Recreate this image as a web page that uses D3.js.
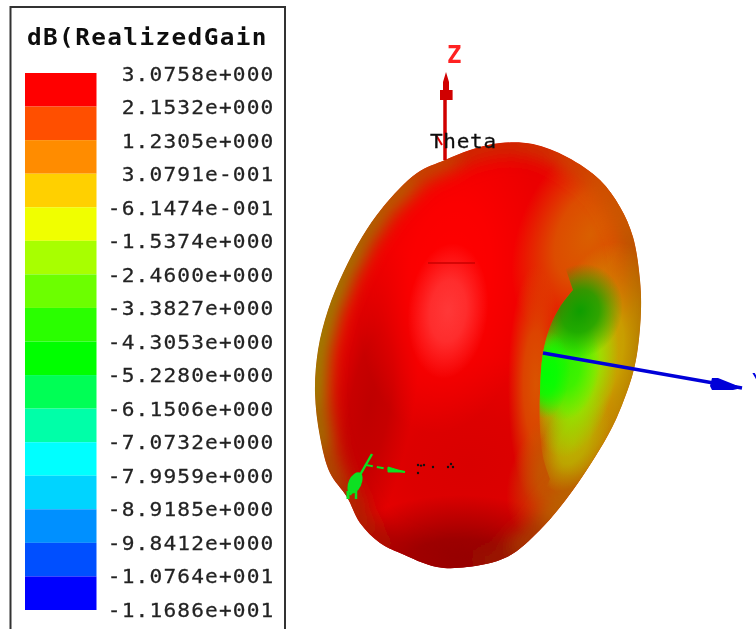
<!DOCTYPE html>
<html>
<head>
<meta charset="utf-8">
<script src="https://cdn.jsdelivr.net/npm/d3@7"></script>
<style>
html,body {margin:0;padding:0;background:#fff;overflow:hidden;}
svg {display:block;}
</style>
</head>
<body>
<script>
//Legend values, top to bottom
var gainLabels= ["3.0758e+000","2.1532e+000","1.2305e+000","3.0791e-001","-6.1474e-001","-1.5374e+000",
    "-2.4600e+000","-3.3827e+000","-4.3053e+000","-5.2280e+000","-6.1506e+000","-7.0732e+000",
    "-7.9959e+000","-8.9185e+000","-9.8412e+000","-1.0764e+001","-1.1686e+001"];
var bandColors= ["#ff0000","#ff5000","#ff8c00","#ffd000","#f0ff00","#a8ff00","#6cff00","#2bff00",
    "#00ff00","#00ff55","#00ffa8","#00ffff","#00d4ff","#0090ff","#0050ff","#0000ff"];

//Pattern silhouette (scene units, u to the right, v up)
var outlineU= [-17.5,-5,10,26.5,43.5,60,70,76.5,80,80.5,79,76.5,70,63.5,46.5,30,13.5,-6.5,-21.5,-40,-50,-60,-66.5,-75,-80,-82.5,-81,-76,-68.5,-59,-48.5,-31.5];
var outlineV= [97.5,102.5,106,105.5,99,87.5,74,59,37.5,22.5,4,-9,-27.5,-41,-67.5,-87.5,-101,-106,-106,-99,-94,-84,-71,-59,-41,-19,2.5,22.5,41,59,74,91];
//Gain (dB) and lighting along the silhouette
var rimGain= [2,2.2,2.2,2,1.6,1.4,1.2,1,0.9,0.8,0.7,0.6,0.5,0.5,0.8,1.5,2.5,3,3,3,2.8,2.2,1.8,1,0,-0.6,-0.6,-0.4,0,0.4,0.8,1.4];
var rimLight= [0.75,0.8,0.8,0.8,0.8,0.8,0.78,0.72,0.68,0.65,0.65,0.68,0.72,0.75,0.72,0.65,0.6,0.6,0.62,0.66,0.68,0.68,0.68,0.65,0.6,0.6,0.6,0.6,0.62,0.65,0.7,0.75];

//Inner edge of the hole
var holeU= [46.5,40,35,31.5,30,30,31.5,35];
var holeV= [32.5,24,14,1,-19,-37.5,-51,-62];

//Soft patches on the body: centre, radii, tilt, gain, lighting
var bodyU= [-5,-10,-55,-15,-16,55,28,42];
var bodyV= [-55,-110,-25,40,22,60,-15,-55];
var bodyRu= [70,70,22,45,20,35,14,24];
var bodyRv= [55,40,80,80,34,55,60,40];
var bodyTilt= [0,0,10,8,6,25,0,30];
var bodyGain= [3.07,3.07,3.07,3.07,3.07,1.2,1.4,1];
var bodyLight= [0.85,0.55,0.75,1,1.22,0.85,0.85,0.75];

//Soft patches inside the hole, same columns
var holeSpotU= [57,47,48,42,50,33];
var holeSpotV= [-2,-43,-10,-5,22,-10];
var holeSpotRu= [30,15,20,18,21,12];
var holeSpotRv= [60,27,42,28,24,22];
var holeSpotTilt= [15,25,12,5,20,5];
var holeSpotGain= [-0.7,-0.7,-2.4,-3.8,-4.3,-4.8];
var holeSpotLight= [0.8,0.76,0.95,0.95,0.62,1];

//Specks of the axis label that stick out of the surface
var speckU= [-31,-29.5,-28,-31,-23.5,-16,-14.5,-13.5];
var speckV= [-55,-55.3,-55,-59,-56,-56,-54.5,-56];

var width= 756, height= 629;

var svg= d3.select("body").append("svg")
            .attr("width",width)
            .attr("height",height);

var defs= svg.append("defs");

function blur(id,amount) {
    defs.append("filter")
        .attr("id",id)
        .attr("x","-50%").attr("y","-50%")
        .attr("width","200%").attr("height","200%")
        .append("feGaussianBlur")
        .attr("stdDeviation",amount);
}
blur("soft",9);
blur("crisp",0.35);

//Scene scales
var sx= d3.scaleLinear().domain([-100,100]).range([280,680]);
var sy= d3.scaleLinear().domain([-100,100]).range([555,155]);
var unit= sx(1)-sx(0);

//Gain to colour, same colours as the legend
var gainValues= gainLabels.map(Number);
var gainMids= bandColors.map(function(c,i) {return (gainValues[i]+gainValues[i+1])/2;});
gainMids[0]= gainValues[0];
gainMids[gainMids.length-1]= gainValues[gainValues.length-1];
var gainColor= d3.scaleLinear().domain(gainMids).range(bandColors).clamp(true);

function lit(gain,light) {
    var c= d3.rgb(gainColor(gain));
    if (light>1) return d3.interpolateRgb(c,"#ffffff")(light-1);
    return d3.rgb(c.r*light,c.g*light,c.b*light).formatHex();
}

//Surface silhouette
var outline= outlineU.map(function(u,i) {return [sx(u),sy(outlineV[i])];});
var outlinePath= d3.line().curve(d3.curveCatmullRomClosed)(outline);

defs.append("clipPath").attr("id","bodyClip").append("path").attr("d",outlinePath);

//Hole clip: inner edge, then slanted away at both ends so only the crease is sharp
var holeEdge= holeU.map(function(u,i) {return [sx(u),sy(holeV[i])];});
var holeLine= d3.line().curve(d3.curveCatmullRom)(holeEdge);
defs.append("clipPath").attr("id","holeClip").append("path")
    .attr("d",holeLine+"L"+sx(15)+","+sy(-110)+"L"+sx(90)+","+sy(-110)+"L"+sx(90)+","+sy(95)+"L"+sx(25)+","+sy(95)+"Z");

var surface= svg.append("g").attr("clip-path","url(#bodyClip)");

surface.append("path")
    .attr("d",outlinePath)
    .attr("fill",lit(3.07,0.92));

//Each patch fades out through its own radial gradient
function patches(parent,name,us,vs,rus,rvs,tilts,gains,lights) {
    us.forEach(function(u,i) {
        var grad= defs.append("radialGradient").attr("id",name+i);
        var colour= lit(gains[i],lights[i]);
        grad.append("stop").attr("offset","0%").attr("stop-color",colour).attr("stop-opacity",1);
        grad.append("stop").attr("offset","45%").attr("stop-color",colour).attr("stop-opacity",0.8);
        grad.append("stop").attr("offset","100%").attr("stop-color",colour).attr("stop-opacity",0);
    });
    parent.append("g")
        .selectAll("ellipse")
        .data(us)
        .join("ellipse")
        .attr("rx",function(d,i) {return rus[i]*unit;})
        .attr("ry",function(d,i) {return rvs[i]*unit;})
        .attr("transform",function(d,i) {return "translate("+sx(d)+","+sy(vs[i])+")rotate("+tilts[i]+")";})
        .attr("fill",function(d,i) {return "url(#"+name+i+")";});
}

patches(surface,"body",bodyU,bodyV,bodyRu,bodyRv,bodyTilt,bodyGain,bodyLight);

//Rim shading, one short stroke per silhouette segment
surface.append("g")
    .attr("filter","url(#soft)")
    .selectAll("line")
    .data(outline)
    .join("line")
    .attr("x1",function(d) {return d[0];})
    .attr("y1",function(d) {return d[1];})
    .attr("x2",function(d,i) {return outline[(i+1)%outline.length][0];})
    .attr("y2",function(d,i) {return outline[(i+1)%outline.length][1];})
    .attr("stroke",function(d,i) {return lit(rimGain[i],rimLight[i]);})
    .attr("stroke-width",24)
    .attr("stroke-linecap","round");

//Hole, sharp on its left edge only
var hole= surface.append("g").attr("clip-path","url(#holeClip)");
patches(hole,"hole",holeSpotU,holeSpotV,holeSpotRu,holeSpotRv,holeSpotTilt,holeSpotGain,holeSpotLight);

//Mesh crease on the front of the body
svg.append("line")
    .attr("x1",sx(-26)).attr("x2",sx(-2.5))
    .attr("y1",sy(46)).attr("y2",sy(46))
    .attr("stroke","#c80000")
    .attr("stroke-width",1.5);

var axisLine= d3.line();
var axes= svg.append("g").attr("filter","url(#crisp)");

//Z axis
axes.append("path")
    .attr("d",axisLine([[sx(-17.5),sy(97.5)],[sx(-17.5),sy(130)]]))
    .attr("stroke","#d00000")
    .attr("stroke-width",3.5);
axes.append("path")
    .attr("d",axisLine([[sx(-17),sy(141.5)],[sx(-15.5),sy(136.5)],[sx(-15.5),sy(132.5)],[sx(-13.7),sy(132.5)],[sx(-13.7),sy(127.5)],[sx(-20),sy(127.5)],[sx(-20),sy(132.5)],[sx(-18.5),sy(132.5)],[sx(-18.5),sy(136.5)]])+"Z")
    .attr("fill","#d00000");
axes.append("path")
    .attr("d",axisLine([[sx(-22),sy(110)],[sx(-19),sy(105)]]))
    .attr("stroke","#e00000")
    .attr("stroke-width",2);
axes.append("text")
    .attr("x",sx(-16.5))
    .attr("y",sy(146))
    .attr("font-family","DejaVu Sans Mono")
    .attr("font-weight","bold")
    .attr("font-size",24)
    .attr("fill","#ff2020")
    .text("Z");
axes.append("text")
    .attr("transform","translate("+sx(-25)+","+sy(103.5)+")scale(1.05,1)")
    .attr("font-family","DejaVu Sans Mono")
    .attr("font-size",20)
    .attr("letter-spacing",0.7)
    .attr("stroke","#111")
    .attr("stroke-width",0.3)
    .attr("fill","#111")
    .text("Theta");

//Y axis
axes.append("path")
    .attr("d",axisLine([[sx(31.5),sy(1)],[sx(131),sy(-16.5)]]))
    .attr("stroke","#0000d8")
    .attr("stroke-width",3.5);
axes.append("path")
    .attr("d",axisLine([[sx(131),sy(-16.5)],[sx(126.5),sy(-14.5)],[sx(119),sy(-11.5)],[sx(116),sy(-11.5)],[sx(115),sy(-15.5)],[sx(116),sy(-17.5)],[sx(126.5),sy(-17.5)]])+"Z")
    .attr("fill","#0000d8");
axes.append("text")
    .attr("x",sx(136))
    .attr("y",sy(-17))
    .attr("font-family","DejaVu Sans Mono")
    .attr("font-size",22)
    .attr("fill","#0000e0")
    .text("Y");

//X axis, mostly buried in the surface
axes.append("path")
    .attr("d",axisLine([[sx(-54),sy(-49.5)],[sx(-60),sy(-60)],[sx(-65),sy(-70)]]))
    .attr("stroke","#08e020")
    .attr("stroke-width",2.5)
    .attr("fill","none");
axes.append("ellipse")
    .attr("cx",sx(-62.5)).attr("cy",sy(-64))
    .attr("rx",6.5).attr("ry",11.5)
    .attr("transform","rotate(25,"+sx(-62.5)+","+sy(-64)+")")
    .attr("fill","#08e020");
axes.append("path")
    .attr("d",axisLine([[sx(-66),sy(-68)],[sx(-66),sy(-72)]]))
    .attr("stroke","#08e020")
    .attr("stroke-width",3)
    .attr("fill","none");
axes.append("path")
    .attr("d",axisLine([[sx(-66),sy(-68)],[sx(-62),sy(-68.5)],[sx(-62),sy(-72)]]))
    .attr("stroke","#08e020")
    .attr("stroke-width",2.5)
    .attr("fill","none");
axes.append("path")
    .attr("d",axisLine([[sx(-57),sy(-55)],[sx(-37.5),sy(-58.5)]]))
    .attr("stroke","#08e020")
    .attr("stroke-width",2)
    .attr("stroke-dasharray","7 4")
    .attr("fill","none");
axes.append("path")
    .attr("d",axisLine([[sx(-37.5),sy(-58.5)],[sx(-46),sy(-56)],[sx(-46),sy(-58.5)]])+"Z")
    .attr("fill","#08e020")
    .attr("stroke","#08e020");

svg.append("g")
    .selectAll("circle")
    .data(speckU)
    .join("circle")
    .attr("cx",function(d) {return sx(d);})
    .attr("cy",function(d,i) {return sy(speckV[i]);})
    .attr("r",1.2)
    .attr("fill","#111");

//Legend
var legend= svg.append("g").attr("filter","url(#crisp)");

legend.append("rect")
    .attr("x",10.5)
    .attr("y",7)
    .attr("width",274.5)
    .attr("height",height+20)
    .attr("fill","none")
    .attr("stroke","#333")
    .attr("stroke-width",2);

legend.append("text")
    .attr("transform","translate(27,45)scale(1.06,1)")
    .attr("font-family","DejaVu Sans Mono")
    .attr("font-weight","bold")
    .attr("font-size",23)
    .attr("letter-spacing",1.31)
    .attr("fill","#111")
    .text("dB(RealizedGain");

var bandY= d3.scaleBand()
    .domain(d3.range(bandColors.length))
    .range([73,610]);

legend.append("g")
    .selectAll("rect")
    .data(bandColors)
    .join("rect")
    .attr("x",25)
    .attr("y",function(d,i) {return bandY(i);})
    .attr("width",71.5)
    .attr("height",bandY.bandwidth())
    .attr("fill",function(d) {return d;});

var labelY= d3.scalePoint()
    .domain(gainLabels)
    .range([74,610]);

//Axis stretched sideways, the reference font is wider than any installed mono
var labelAxis= legend.append("g")
    .attr("transform","translate(274.5,0)scale(1.06,1)")
    .call(d3.axisLeft(labelY).tickSize(0).tickPadding(0));

labelAxis.select(".domain").remove();
labelAxis.selectAll("text")
    .attr("font-family","DejaVu Sans Mono")
    .attr("font-size",20)
    .attr("letter-spacing",1.07)
    .attr("stroke","#222")
    .attr("stroke-width",0.25)
    .attr("fill","#222");
</script>
</body>
</html>
